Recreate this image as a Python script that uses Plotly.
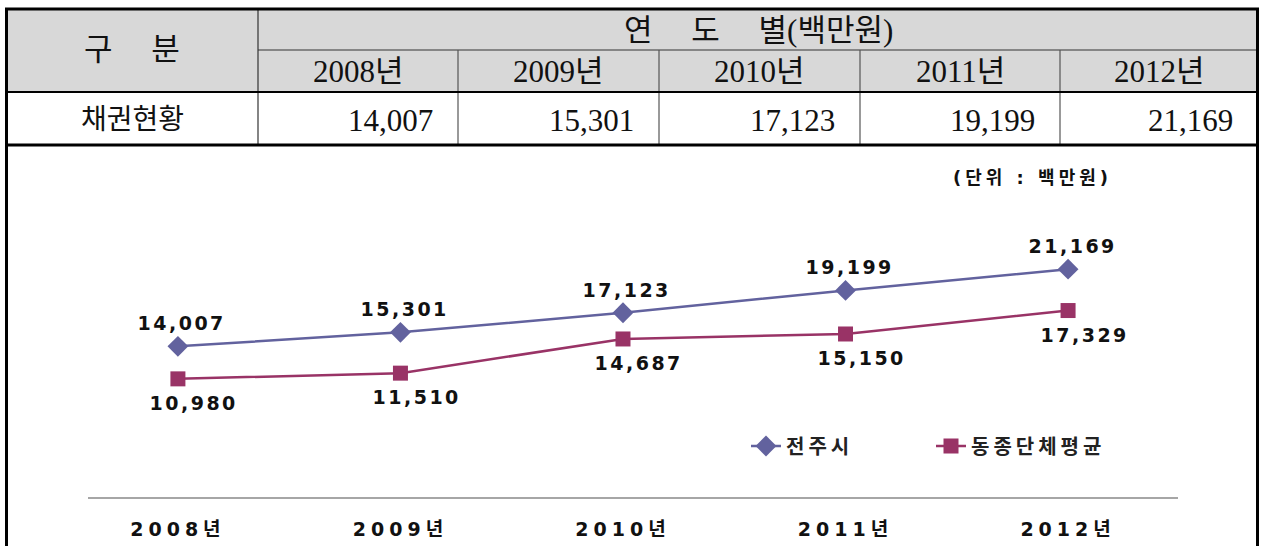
import plotly.graph_objects as go

# ---------------- data ----------------
years = ["2008년", "2009년", "2010년", "2011년", "2012년"]
jeonju = [14007, 15301, 17123, 19199, 21169]          # 전주시
peer_avg = [10980, 11510, 14687, 15150, 17329]        # 동종단체평균
series_names = ["전주시", "동종단체평균"]
row_label = "채권현황"
head_left = "구     분"
head_top = "연     도     별(백만원)"
unit_label = "(단위 : 백만원)"

W, H = 1261, 546
def px(x): return x / W
def py(y): return 1 - y / H

BLUE = "#62629e"
MAG = "#993366"
SANS = "DejaVu Sans, Noto Sans CJK KR"
SERIF = "Liberation Serif, Noto Sans CJK KR"

fig = go.Figure()
fig.add_trace(go.Scatter(
    x=years, y=jeonju, name=series_names[0], mode="lines+markers",
    line=dict(color=BLUE, width=2.5),
    marker=dict(symbol="diamond", size=16, color=BLUE),
))
fig.add_trace(go.Scatter(
    x=years, y=peer_avg, name=series_names[1], mode="lines+markers",
    line=dict(color=MAG, width=2.5),
    marker=dict(symbol="square", size=15, color=MAG),
))

ann = []
for yr, v in zip(years, jeonju):
    ann.append(dict(x=yr, y=v, xref="x", yref="y", text=f"{v:,}", showarrow=False,
                    yshift=23, xshift=4,
                    font=dict(family=SANS, size=19, color="#111", weight="bold")))
for yr, v in zip(years, peer_avg):
    ann.append(dict(x=yr, y=v, xref="x", yref="y", text=f"{v:,}", showarrow=False,
                    yshift=-24, xshift=16,
                    font=dict(family=SANS, size=19, color="#111", weight="bold")))

# unit label
ann.append(dict(x=px(1032), y=py(178), xref="paper", yref="paper", text=unit_label,
                showarrow=False, xanchor="center", yanchor="middle",
                font=dict(family=SANS, size=18, color="#111", weight="bold")))

# ---------------- table ----------------
col_edges = [6, 258, 458, 659, 860, 1060, 1258]
tbl_font = dict(family=SERIF, size=31, color="#111")
ann.append(dict(x=px((col_edges[0] + col_edges[1]) / 2), y=py(49), xref="paper", yref="paper",
                text=head_left, showarrow=False, xanchor="center", yanchor="middle", font=tbl_font))
ann.append(dict(x=px((col_edges[1] + col_edges[-1]) / 2), y=py(30), xref="paper", yref="paper",
                text=head_top, showarrow=False, xanchor="center", yanchor="middle", font=tbl_font))
for i, yr in enumerate(years):
    cx = (col_edges[i + 1] + col_edges[i + 2]) / 2
    ann.append(dict(x=px(cx), y=py(72), xref="paper", yref="paper", text=yr,
                    showarrow=False, xanchor="center", yanchor="middle", font=tbl_font))
for i, v in enumerate(jeonju):
    rx = col_edges[i + 2] - 23
    ann.append(dict(x=px(rx), y=py(120), xref="paper", yref="paper", text=f"{v:,}",
                    showarrow=False, xanchor="right", yanchor="middle", font=tbl_font))
ann.append(dict(x=px((col_edges[0] + col_edges[1]) / 2), y=py(119), xref="paper", yref="paper",
                text=row_label, showarrow=False, xanchor="center", yanchor="middle",
                font=dict(family=SERIF, size=28, color="#111")))

shapes = []
def line(x0, y0, x1, y1, w, c="#000"):
    shapes.append(dict(type="line", xref="paper", yref="paper",
                       x0=px(x0), y0=py(y0), x1=px(x1), y1=py(y1),
                       line=dict(color=c, width=w)))
shapes.append(dict(type="rect", xref="paper", yref="paper", layer="below",
                   x0=px(6), y0=py(92), x1=px(1258), y1=py(9),
                   fillcolor="#d8d8d8", line=dict(width=0)))
line(258, 50, 1258, 50, 1.2, "#333")
line(258, 9, 258, 145, 1.2, "#333")
for xe in col_edges[2:-1]:
    line(xe, 50, xe, 145, 1.2, "#555")
line(6, 92, 1258, 92, 2.2)
line(6, 145, 1258, 145, 3)
line(5, 9, 1259, 9, 3)
line(6.5, 8, 6.5, 546, 3)
line(1257.5, 8, 1257.5, 546, 3)

fig.update_layout(
    width=W, height=H, margin=dict(l=0, r=0, t=0, b=0),
    paper_bgcolor="white", plot_bgcolor="white",
    showlegend=True,
    legend=dict(orientation="h", x=px(746), y=py(446), xanchor="left", yanchor="middle",
                font=dict(family=SANS, size=20, color="#222", weight="bold"),
                entrywidth=140, entrywidthmode="pixels", bgcolor="rgba(0,0,0,0)"),
    xaxis=dict(domain=[px(88), px(1178)], type="category", range=[-0.404, 4.494],
               showline=True, linecolor="#a6a6a6", linewidth=2, showgrid=False,
               zeroline=False, ticks="", ticklabelstandoff=14,
               tickfont=dict(family=SANS, size=19, color="#111", weight="bold")),
    yaxis=dict(domain=[py(497), py(228)], range=[0, 25000], showgrid=False,
               showticklabels=False, zeroline=False, showline=False),
    annotations=ann, shapes=shapes,
)

css = ("html,body{margin:0;padding:0}"
       " text.xtick, .xtick text{letter-spacing:5px}"
       " .legendtext{letter-spacing:4px}"
       " text.annotation-text[style*='DejaVu'][style*='19px']{letter-spacing:2.5px}"
       " text.annotation-text[style*='DejaVu'][style*='18px']{letter-spacing:4px}")
post = ("var s=document.createElement('style');s.textContent=\"" + css + "\";"
        "document.head.appendChild(s);")
fig.write_html("out.html", post_script=post, config={"displayModeBar": False})
